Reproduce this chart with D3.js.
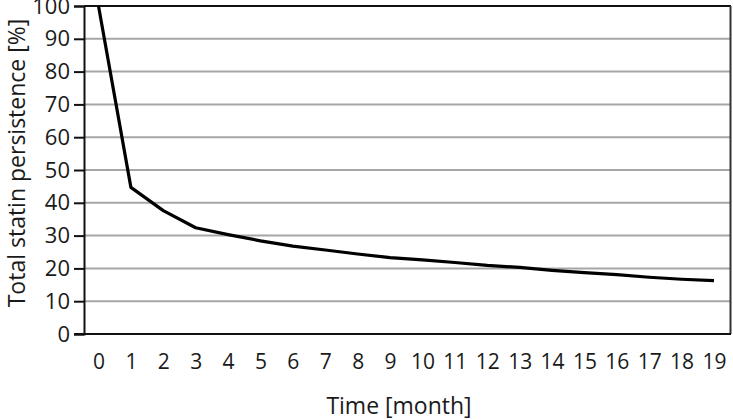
<!DOCTYPE html>
<html>
<head>
<meta charset="utf-8">
<script src="https://cdn.jsdelivr.net/npm/d3@7"></script>
<style>
  body { margin: 0; background: #fff; }
  svg { display: block; font-family: "Open Sans", "Noto Sans", sans-serif; }
</style>
</head>
<body>
<svg id="chart"></svg>
<script>
// data
const months = [0, 1, 2, 3, 4, 5, 6, 7, 8, 9, 10, 11, 12, 13, 14, 15, 16, 17, 18, 19]
const persistence = [100, 44.7, 37.6, 32.4, 30.3, 28.4, 26.8, 25.6, 24.4, 23.3, 22.6, 21.8, 20.9, 20.3, 19.4, 18.7, 18.1, 17.3, 16.7, 16.3]
const yTicks = [0, 10, 20, 30, 40, 50, 60, 70, 80, 90, 100]

const dataset = months.map((m, i) => ({ month: m, value: persistence[i] }))

const w = 733
const h = 420
const margin = { top: 6, right: 2, bottom: 86, left: 84 }
const font = '"Open Sans", "Noto Sans", sans-serif'

const svg = d3.select('#chart')
  .attr('width', w)
  .attr('height', h)

const xScale = d3.scaleLinear()
  .domain([0, 19])
  .range([98.5, 714])

const yScale = d3.scaleLinear()
  .domain([0, 100])
  .range([h - margin.bottom, margin.top])

// grid lines
svg.append('g')
  .selectAll('line')
  .data(yTicks.filter(d => d > 0 && d < 100))
  .join('line')
    .attr('x1', margin.left)
    .attr('x2', w - margin.right)
    .attr('y1', d => yScale(d))
    .attr('y2', d => yScale(d))
    .attr('stroke', '#a6a6a6')
    .attr('stroke-width', 2)

// frame
svg.append('line')
  .attr('x1', margin.left).attr('x2', w - margin.right)
  .attr('y1', yScale(100)).attr('y2', yScale(100))
  .attr('stroke', '#111').attr('stroke-width', 2)
svg.append('line')
  .attr('x1', w - margin.right - 0.5).attr('x2', w - margin.right - 0.5)
  .attr('y1', yScale(100)).attr('y2', yScale(0))
  .attr('stroke', '#333').attr('stroke-width', 2)

// y axis
const yAxis = d3.axisLeft(yScale)
  .tickValues(yTicks)
  .tickSize(10)
  .tickPadding(4)

const gy = svg.append('g')
  .attr('transform', `translate(${margin.left}, 0)`)
  .call(yAxis)
gy.select('.domain').attr('stroke', '#111').attr('stroke-width', 2)
gy.selectAll('.tick line').attr('stroke', '#111').attr('stroke-width', 2)
gy.selectAll('.tick text')
  .attr('fill', '#1a1a1a')
  .style('font-size', '22px')
  .style('font-family', font)

// x axis (labels only)
const xAxis = d3.axisBottom(xScale)
  .tickValues(months)
  .tickSize(0)
  .tickPadding(20)

const gx = svg.append('g')
  .attr('transform', `translate(0, ${yScale(0)})`)
  .call(xAxis)
gx.select('.domain').remove()
svg.append('line')
  .attr('x1', margin.left - 10).attr('x2', w - margin.right)
  .attr('y1', yScale(0)).attr('y2', yScale(0))
  .attr('stroke', '#111').attr('stroke-width', 2)
gx.selectAll('.tick text')
  .attr('fill', '#1a1a1a')
  .style('font-size', '21px')
  .style('font-family', font)

// line
const line = d3.line()
  .x(d => xScale(d.month))
  .y(d => yScale(d.value))

svg.append('path')
  .datum(dataset)
  .attr('d', line)
  .attr('fill', 'none')
  .attr('stroke', '#000')
  .attr('stroke-width', 3.2)
  .attr('stroke-linejoin', 'round')

// axis titles
svg.append('text')
  .attr('x', 399)
  .attr('y', 414)
  .attr('text-anchor', 'middle')
  .attr('fill', '#1a1a1a')
  .style('font-size', '23px')
  .text('Time [month]')

svg.append('text')
  .attr('transform', 'translate(25, 163) rotate(-90)')
  .attr('text-anchor', 'middle')
  .attr('fill', '#1a1a1a')
  .style('font-size', '23px')
  .text('Total statin persistence [%]')
</script>
</body>
</html>
